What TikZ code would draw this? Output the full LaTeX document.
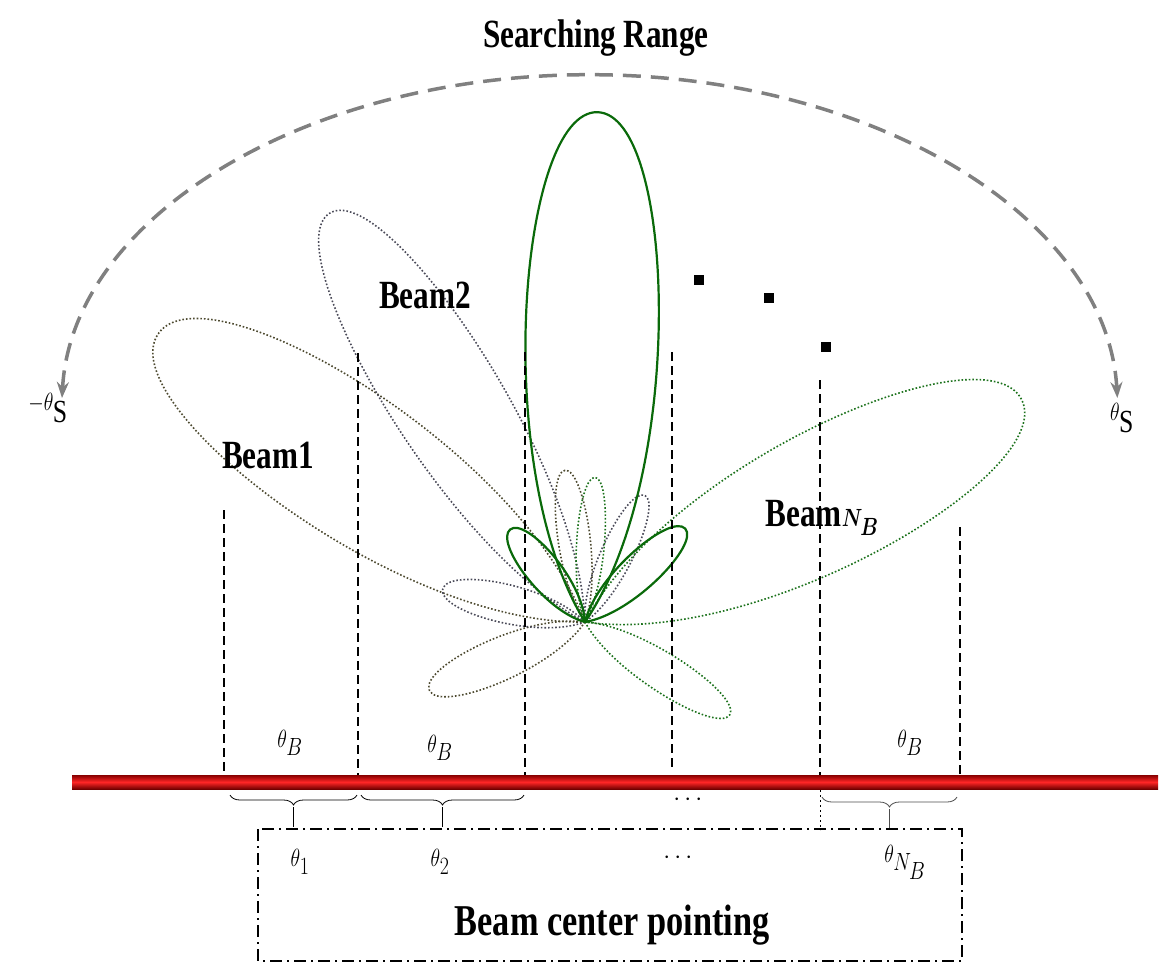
\documentclass[tikz,border=0pt]{standalone}
\usepackage{amsmath,bm}
\usepackage{fontspec}
\setmainfont{Liberation Serif}
\usetikzlibrary{arrows.meta,decorations.pathreplacing}
\definecolor{olivel}{HTML}{4D4A30}
\definecolor{grayl}{HTML}{4A4A58}
\definecolor{greenl}{HTML}{1C721C}
\definecolor{greens}{HTML}{0A6A0A}
\definecolor{barred}{HTML}{C00000}
\newcommand\mylobe[4]{\draw[#4,shift={(585,-622)},rotate=#1] (0,0) .. controls (0.3*#2,1.6*#3) and (#2,1.25*#3) .. (#2,0) .. controls (#2,-1.25*#3) and (0.3*#2,-1.6*#3) .. (0,0);}
\tikzset{
 dl/.style={line width=1.6pt,dotted},
 vd/.style={dashed,line width=1.3pt,dash pattern=on 9pt off 5pt},
 txt/.style={inner sep=0pt,font=\fontsize{40}{42}\selectfont\bfseries,xscale=0.78},
 mth/.style={inner sep=0pt,font=\fontsize{46}{48}\selectfont,xscale=0.8},
 brc/.style={decorate,decoration={brace,mirror,amplitude=10pt},line width=0.8pt}
}
\begin{document}
\begin{tikzpicture}[x=1pt,y=1pt]
\useasboundingbox (0,0) rectangle (1171,-977);
% arc
\draw[gray,line width=3.5pt,dash pattern=on 18pt off 10pt,{Stealth[length=16pt,width=12pt]}-{Stealth[length=16pt,width=12pt]}]
 (62,-398) arc[start angle=178,end angle=2,x radius=528,y radius=335];
\node[txt] (sr) at (596,-38) {Searching Range};
\node[mth] (ml) at (48,-408) {$-\theta_{\mathrm{S}}$};
\node[mth] (mr) at (1122,-418) {$\theta_{\mathrm{S}}$};
% lobes
\mylobe{146}{515}{68}{olivel,dl}
\mylobe{203.7}{170}{20}{olivel,dl}
\mylobe{97.5}{153}{15}{olivel,dl}
\mylobe{122}{482}{52}{grayl,dl}
\mylobe{167}{146}{18}{grayl,dl}
\mylobe{64.7}{140}{15}{grayl,dl}
\mylobe{27}{490}{65}{greenl,dl}
\mylobe{-32.7}{172}{18}{greenl,dl}
\mylobe{86}{145}{13}{greenl,dl}
\mylobe{88.6}{510}{62}{greens,line width=2.2pt}
\mylobe{129}{119}{16}{greens,line width=2.2pt}
\mylobe{43}{137}{17}{greens,line width=2.2pt}
% dashed verticals
\draw[vd] (224,-510) -- (224,-775);
\draw[vd] (358,-353) -- (358,-775);
\draw[vd] (525,-352) -- (525,-775);
\draw[vd] (672,-352) -- (672,-770);
\draw[vd] (820,-380) -- (820,-790);
\draw[dash pattern=on 2pt off 3pt,line width=0.8pt] (820,-790) -- (820,-830);
\draw[vd] (960,-527) -- (960,-780);
% bar
\shade[top color=barred!70!black,bottom color=barred!60!black,middle color=red!85!white] (72,-775) rectangle (1158,-789);
% braces
\draw[brc] (230,-795) -- (357,-795);
\draw[brc] (361,-795) -- (524,-795);
\draw[brc,gray!60!black] (822,-797) -- (957,-797);
\draw[line width=0.8pt] (293,-807) -- (293,-827);
\draw[line width=0.8pt] (442,-807) -- (442,-827);
\draw[line width=0.8pt,gray!60!black] (889,-809) -- (889,-829);
% labels
\node[mth] (b1) at (290,-743) {$\theta_B$};
\node[mth] (b2) at (440,-748) {$\theta_B$};
\node[mth] (b3) at (910,-743) {$\theta_B$};
\node[font=\fontsize{36}{36}\selectfont] (d1) at (690,-800) {$\cdots$};
\node[font=\fontsize{36}{36}\selectfont] (d2) at (680,-858) {$\cdots$};
\node[txt] (beam1) at (268,-455) {Beam1};
\node[txt] (beam2) at (425,-295) {Beam2};
\node[txt] (beamn) at (822,-518) {Beam$\bm{N_B}$};
\foreach \p in {(699,-280),(769,-298),(826,-347)} \fill \p ++(-5,-5) rectangle ++(10,10);
% box
\draw[line width=1.3pt,dash pattern=on 12pt off 5pt on 2pt off 5pt] (258,-829) rectangle (962,-961);
\node[mth] (t1) at (300,-862) {$\theta_1$};
\node[mth] (t2) at (440,-862) {$\theta_2$};
\node[mth] (tn) at (905,-862) {$\theta_{N_B}$};
\node[txt,font=\fontsize{44}{46}\selectfont\bfseries] (bcp) at (612,-925) {Beam center pointing};
\end{tikzpicture}
\end{document}
